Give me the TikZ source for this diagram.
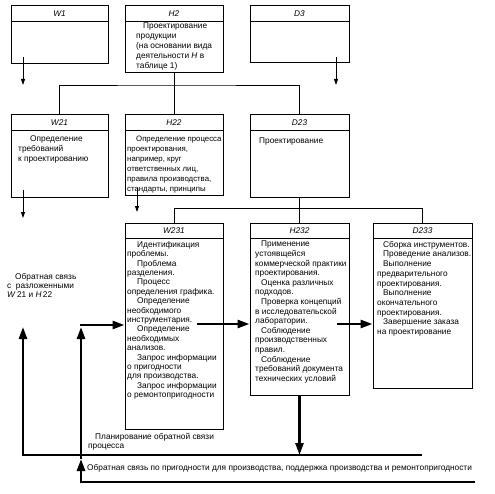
\documentclass[tikz,border=0pt]{standalone}
\usepackage{fontspec}
\setmainfont{Liberation Sans}
\usetikzlibrary{arrows.meta,fit,calc}
\tikzset{
  boxshape/.style={draw, line width=1pt, inner sep=0pt},
  hdrline/.style={line width=1pt},
  hdr/.style={font=\fontsize{8.3}{9.6}\selectfont\itshape, inner sep=0pt},
  body/.style={align=left, anchor=north west, inner sep=0pt},
  conn/.style={line width=0.9pt},
  thinarrow/.style={line width=0.8pt, -{Triangle[length=6pt,width=4pt]}},
  thkarrow/.style={line width=2.6pt, -{Triangle[length=12pt,width=8pt]}},
}
\newcommand{\fs}[1]{\fontsize{8.3}{#1}\selectfont}
\newcommand{\pbox}[6]{%
  \coordinate (#1-nw) at (#2,#3);
  \coordinate (#1-se) at (#4,#5);
  \node[boxshape, fit=(#1-nw)(#1-se)] (#1) {};
  \draw[hdrline] (#2,#3+15.5) -- (#4,#3+15.5);
  \node[hdr] (#1-h) at ({(#2+#4)/2},#3+7.75) {#6};
}
\begin{document}
\begin{tikzpicture}[x=1pt,y=-1pt]
\useasboundingbox (0,0) rectangle (494,494);
% boxes
\pbox{w1}{11}{6}{108}{64}{W1}
\pbox{h2}{125}{6}{223}{73}{H2}
\pbox{d3}{250}{6}{349}{63}{D3}
\pbox{w21}{11}{115}{108}{197}{W21}
\pbox{h22}{125}{115}{223}{195}{H22}
\pbox{d23}{250}{115}{349}{197}{D23}
\pbox{w231}{125}{223}{223}{429}{W231}
\pbox{h232}{250}{223}{349}{395}{H232}
\pbox{d233}{373}{223}{472}{388}{D233}
% box texts
\node[body, font=\fs{10}] (h2t) at (136,23) {\hspace*{7pt}Проектирование\\продукции\\(на основании вида\\деятельности \textit{H} в\\таблице 1)};
\node[body, font=\fs{10}] (w21t) at (18,136) {\hspace*{12pt}Определение\\требований\\к проектированию};
\node[body, font=\fontsize{7.8}{10}\selectfont] (h22t) at (127,136) {\hspace*{9pt}Определение процесса\\проектирования,\\например, круг\\ответственных лиц,\\правила производства,\\стандарты, принципы};
\node[body, font=\fs{10}] (d23t) at (259,138) {Проектирование};
\node[body, font=\fs{9.4}] (w231t) at (127,241) {\hspace*{10pt}Идентификация\\проблемы.\\\hspace*{10pt}Проблема\\разделения.\\\hspace*{10pt}Процесс\\определения графика.\\\hspace*{10pt}Определение\\необходимого\\инструментария.\\\hspace*{10pt}Определение\\необходимых\\анализов.\\\hspace*{10pt}Запрос информации\\о пригодности\\для производства.\\\hspace*{10pt}Запрос информации\\о ремонтопригодности};
\node[body, font=\fs{9.6}] (h232t) at (255,241) {\hspace*{6pt}Применение\\устоявщейся\\коммерческой практики\\проектирования.\\\hspace*{6pt}Оценка различных\\подходов.\\\hspace*{6pt}Проверка концепций\\в исследовательской\\лаборатории.\\\hspace*{6pt}Соблюдение\\производственных\\правил.\\\hspace*{6pt}Соблюдение\\требований документа\\технических условий};
\node[body, font=\fs{9.7}] (d233t) at (377,241) {\hspace*{6pt}Сборка инструментов.\\\hspace*{6pt}Проведение анализов.\\\hspace*{6pt}Выполнение\\предварительного\\проектирования.\\\hspace*{6pt}Выполнение\\окончательного\\проектирования.\\\hspace*{6pt}Завершение заказа\\на проектирование};
% free texts
\node[body, font=\fs{9}] (lefttxt) at (7,273) {\hspace*{8pt}Обратная связь\\с\ \ разложенными\\\textit{W}\,21 и \textit{H}\,22};
\node[body, font=\fs{9}] (plantxt) at (88,433) {\hspace*{7pt}Планирование обратной связи\\процесса};
\node[body, font=\fs{9}] (bottxt) at (87,464) {Обратная связь по пригодности для производства, поддержка производства и ремонтопригодности};
% thin connectors
\coordinate (bus1) at (174,85);
\draw[conn] (h2.south) -- (h22.north);
\draw[conn] (w21.north) |- (bus1) -| (d23.north);
\draw[conn] (w231.north) -- ++(0,-14) -| (d233.north);
\draw[conn] (d23.south) -- (h232.north);
% thin arrows
\coordinate (a1s) at (23,57);  \coordinate (a1e) at (23,85);
\coordinate (a2s) at (336,57); \coordinate (a2e) at (336,85);
\coordinate (a3s) at (23,190); \coordinate (a3e) at (23,218);
\coordinate (a4s) at (137,188); \coordinate (a4e) at (137,212);
\draw[thinarrow] (a1s) -- (a1e);
\draw[thinarrow] (a2s) -- (a2e);
\draw[thinarrow] (a3s) -- (a3e);
\draw[thinarrow] (a4s) -- (a4e);
% thick arrows
\coordinate (fbA) at (23,455);
\coordinate (fbB) at (422,455);
\coordinate (fbAt) at (23,327);
\draw[thkarrow] (fbB) -- (fbA) -- (fbAt);
\draw[thkarrow] (h232.south) -- (h232.south |- fbA);
\coordinate (fbC) at (475,482);
\coordinate (fbD) at (81,482);
\coordinate (fbDm) at (81,459);
\coordinate (fbF) at (81,327);
\coordinate (fbG) at (79.7,325);
\draw[thkarrow] (fbC) -- (fbD) -- (fbDm);
\draw[thkarrow] (fbDm) -- (fbF);
\draw[thkarrow] (fbG) -- (w231.west |- fbG);
\coordinate (w2h) at (197,324);
\coordinate (h2d) at (337,324);
\draw[thkarrow] (w2h) -- (h232.west |- w2h);
\draw[thkarrow] (h2d) -- (d233.west |- h2d);
\end{tikzpicture}
\end{document}
